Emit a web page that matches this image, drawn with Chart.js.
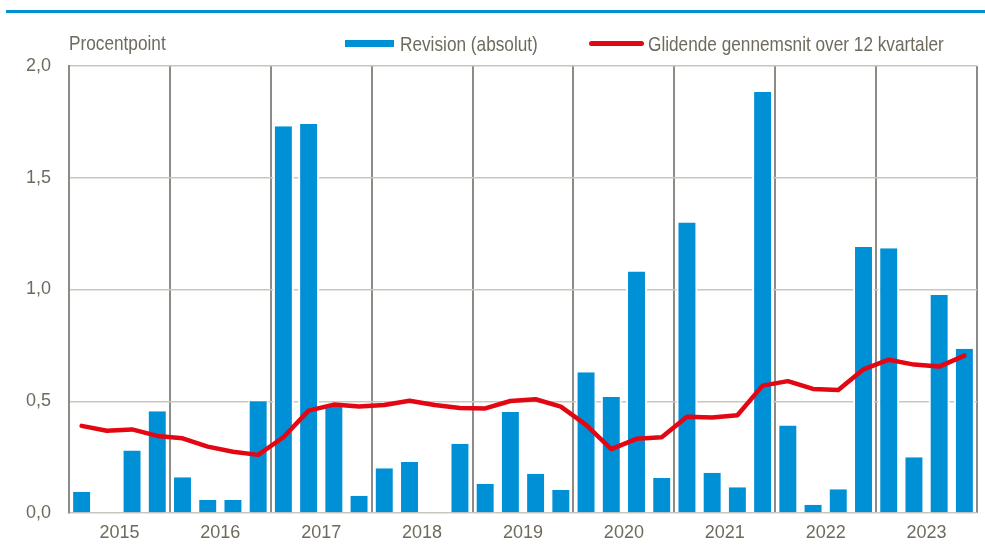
<!DOCTYPE html>
<html>
<head>
<meta charset="utf-8">
<script src="https://cdn.jsdelivr.net/npm/chart.js@4/dist/chart.umd.min.js"></script>
<style>
  body { margin: 0; background: #fff; }
  #wrap { position: relative; width: 985px; height: 552px; }
  #topline { position: absolute; left: 6px; top: 10px; width: 979px; height: 3px; background: #0090d5; }
  .lbl { position: absolute; font-family: 'Liberation Sans Narrow', 'Liberation Sans', Arial, sans-serif; font-size: 21px; color: #6e6b5d; line-height: 21px; white-space: nowrap; transform: scaleX(0.82); transform-origin: left center; }
  .key { position: absolute; }
</style>
</head>
<body>
<div id="wrap">
  <div id="topline"></div>
  <div class="lbl" style="left:69px; top:32px;">Procentpoint</div>
  <div class="key" style="left:345px; top:40px; width:49px; height:7px; background:#0090d5;"></div>
  <div class="lbl" style="left:400px; top:33px;">Revision (absolut)</div>
  <div class="key" style="left:589px; top:41px; width:55px; height:5px; border-radius:2.5px; background:#e30613;"></div>
  <div class="lbl" style="left:648px; top:33px;">Glidende gennemsnit over 12 kvartaler</div>
  <canvas id="revChart"></canvas>
</div>
<script>
// Quarterly data 2015K1 - 2023K4
const years = ['2015', '2016', '2017', '2018', '2019', '2020', '2021', '2022', '2023'];
const quarters = [];
years.forEach(y => { for (let q = 1; q <= 4; q++) quarters.push(y + 'K' + q); });

const revision = [
    0.095, 0, 0.28, 0.455,
    0.16, 0.058, 0.058, 0.50,
    1.73, 1.74, 0.476, 0.077,
    0.20, 0.228, 0, 0.31,
    0.131, 0.452, 0.176, 0.103,
    0.63, 0.519, 1.08, 0.157,
    1.30, 0.18, 0.115, 1.884,
    0.392, 0.037, 0.106, 1.19,
    1.185, 0.249, 0.975, 0.735
];

const movingAvg = [
    0.39, 0.368, 0.374, 0.345,
    0.334, 0.297, 0.274, 0.26,
    0.339, 0.458, 0.485, 0.476,
    0.483, 0.502, 0.483, 0.47,
    0.468, 0.501, 0.509, 0.476,
    0.394, 0.286, 0.332, 0.339,
    0.431, 0.427, 0.437, 0.57,
    0.59, 0.555, 0.55, 0.643,
    0.686, 0.664, 0.655, 0.704
];

const yTicks = [0, 0.5, 1.0, 1.5, 2.0];

const textColor = '#6e6b5d';
const fontFamily = "'Liberation Sans Narrow', 'Liberation Sans', Arial, sans-serif";

const data = {
    labels: quarters,
    datasets: [
        {
            type: 'line',
            label: 'Glidende gennemsnit over 12 kvartaler',
            data: movingAvg,
            borderColor: '#e30613',
            borderWidth: 4.5,
            pointRadius: 0,
            tension: 0,
            borderCapStyle: 'round',
            borderJoinStyle: 'round',
            fill: false,
            order: 0
        },
        {
            type: 'bar',
            label: 'Revision (absolut)',
            data: revision,
            backgroundColor: '#0090d5',
            borderColor: '#ffffff',
            borderWidth: { left: 2, right: 2, top: 0, bottom: 0 },
            borderSkipped: false,
            categoryPercentage: 1,
            barPercentage: 0.83,
            order: 1
        }
    ]
};

const config = {
    type: 'bar',
    data: data,
    options: {
        responsive: true,
        maintainAspectRatio: false,
        animation: false,
        layout: { padding: { top: 66, right: 8, left: 0, bottom: 0 } },
        plugins: {
            legend: { display: false },
            tooltip: { enabled: false }
        },
        scales: {
            x: {
                type: 'category',
                display: false,
                offset: true
            },
            xYear: {
                type: 'category',
                labels: years,
                position: 'bottom',
                offset: true,
                grid: {
                    offset: true,
                    color: '#8c8b86',
                    lineWidth: 2,
                    drawTicks: false
                },
                border: { display: false },
                ticks: {
                    color: textColor,
                    font: { family: fontFamily, size: 18 },
                    padding: 9,
                    maxRotation: 0
                },
                afterFit: scale => { scale.height = 39; }
            },
            y: {
                min: 0,
                max: 2,
                afterBuildTicks: scale => { scale.ticks = yTicks.map(v => ({ value: v })); },
                grid: {
                    color: '#c9c7bd',
                    lineWidth: 1.5,
                    drawTicks: false
                },
                border: { color: '#8c8b86', width: 2 },
                ticks: {
                    color: textColor,
                    font: { family: fontFamily, size: 18 },
                    padding: 18,
                    callback: v => v.toFixed(1).replace('.', ',')
                },
                afterFit: scale => { scale.width = 69; }
            }
        }
    }
};

const ctx = document.getElementById('revChart').getContext('2d');
new Chart(ctx, config);
</script>
</body>
</html>
